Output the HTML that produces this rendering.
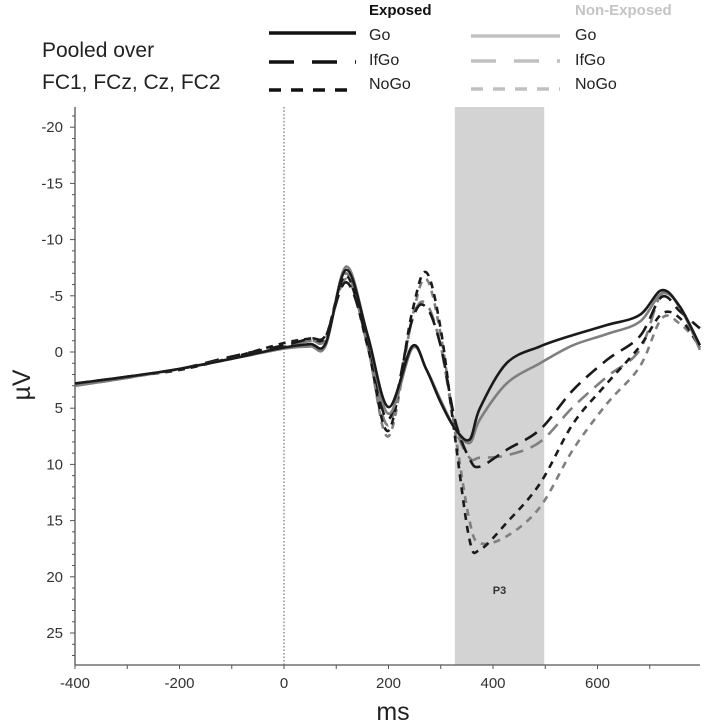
<!DOCTYPE html>
<html><head><meta charset="utf-8"><style>
html,body{margin:0;padding:0;background:#fff;}
svg{display:block;font-family:"Liberation Sans",sans-serif;}
</style></head><body>
<svg id="chart" width="709" height="728" viewBox="0 0 709 728">
<g>
  <text x="42" y="57" font-size="21" fill="#222">Pooled over</text>
  <text x="42" y="89" font-size="21" fill="#222">FC1, FCz, Cz, FC2</text>
  <text x="369" y="15" font-size="15" font-weight="bold" fill="#111">Exposed</text>
  <text x="575" y="15" font-size="15" font-weight="bold" fill="#c4c4c4">Non-Exposed</text>
  <line x1="269" y1="33" x2="356" y2="33" stroke="#111" stroke-width="3.5"/>
  <line x1="269" y1="62" x2="356" y2="62" stroke="#111" stroke-width="3.5" stroke-dasharray="25 18"/>
  <line x1="269" y1="90" x2="356" y2="90" stroke="#111" stroke-width="3.5" stroke-dasharray="12 10"/>
  <text x="369" y="40" font-size="16" fill="#222">Go</text>
  <text x="369" y="65" font-size="16" fill="#222">IfGo</text>
  <text x="369" y="89" font-size="16" fill="#222">NoGo</text>
  <line x1="471" y1="36" x2="560" y2="36" stroke="#c0c0c0" stroke-width="3.5"/>
  <line x1="471" y1="61" x2="560" y2="61" stroke="#c0c0c0" stroke-width="3.5" stroke-dasharray="25 18"/>
  <line x1="471" y1="89" x2="560" y2="89" stroke="#c0c0c0" stroke-width="3.5" stroke-dasharray="12 10"/>
  <text x="575" y="40" font-size="16" fill="#222">Go</text>
  <text x="575" y="65" font-size="16" fill="#222">IfGo</text>
  <text x="575" y="89" font-size="16" fill="#222">NoGo</text>
</g>
<g id="plot"></g>
</svg>
<script>
const times = [-400,-300,-200,-100,0,50,80,119,160,200,245,272,300,327,355,375,426,490,553,618,681,723,758,796];
const goExposed = [2.8,2.2,1.5,0.6,-0.4,-0.7,-0.8,-7.3,-1.5,4.9,-0.5,1.5,4.5,6.8,7.8,5.0,1.0,-0.5,-1.5,-2.4,-3.3,-5.5,-4.0,-0.6];
const goNonExposed = [3.0,2.3,1.5,0.6,-0.3,-0.5,-0.6,-7.6,-1.5,5.5,-0.3,1.5,4.3,6.8,8.1,6.0,2.8,1.0,-0.6,-1.6,-2.7,-5.2,-4.0,-0.2];
const ifgoExposed = [2.8,2.2,1.5,0.4,-0.6,-1.2,-1.5,-6.2,-1.0,6.0,-2.8,-4.0,-0.5,6.0,9.5,10.2,8.7,6.9,3.4,0.7,-1.4,-4.9,-3.6,-2.1];
const ifgoNonExposed = [3.0,2.3,1.5,0.5,-0.5,-1.0,-1.2,-6.5,-1.0,6.5,-2.8,-4.3,-0.5,6.5,9.4,9.4,9.2,8.0,4.9,2.2,-0.2,-5.2,-3.9,-0.3];
const nogoExposed = [2.9,2.2,1.6,0.5,-0.8,-1.2,-1.4,-6.8,-0.5,7.0,-3.5,-7.1,-2.0,7.5,16.7,17.6,15.2,11.7,6.4,2.8,-0.5,-3.4,-3.0,-0.4];
const nogoNonExposed = [3.0,2.3,1.5,0.6,-0.5,-1.0,-1.2,-7.0,-0.5,7.5,-3.0,-6.5,-1.5,7.0,15.0,17.0,16.4,13.8,8.7,4.6,1.3,-3.0,-2.5,-0.7];
const xTicks = [-400,-200,0,200,400,600];
const yTicks = [-20,-15,-10,-5,0,5,10,15,20,25];
const p3Window = [327,498];

const NS='http://www.w3.org/2000/svg';
const X0=75, X1=700, Y0=107, Y1=665;
const xs = t => 284 + 0.5225*t;
const ys = v => 352 + 11.24*v;
const plot = document.getElementById('plot');
function mk(tag, attrs, parent){
  const e=document.createElementNS(NS,tag);
  for(const k in attrs) e.setAttribute(k, attrs[k]);
  (parent||plot).appendChild(e); return e;
}
// P3 shading
const sh = mk('rect',{x:xs(p3Window[0]),y:Y0,width:xs(p3Window[1])-xs(p3Window[0]),height:Y1-Y0,fill:'#d3d3d3'});


const p3 = mk('text',{x:(xs(p3Window[0])+xs(p3Window[1]))/2,y:594,'font-size':11,'font-weight':'bold','text-anchor':'middle',fill:'#333'});
p3.textContent='P3';


// zero line
const zl = mk('line',{x1:xs(0),y1:Y0,x2:xs(0),y2:Y1,stroke:'#555','stroke-width':1,'stroke-dasharray':'1.5 2'});


// axes
const ya = mk('line',{x1:X0,y1:Y0,x2:X0,y2:Y1,stroke:'#555','stroke-width':1.3});


const xa = mk('line',{x1:X0,y1:Y1,x2:X1,y2:Y1,stroke:'#555','stroke-width':1.3});


for(let v=-21; v<=27; v++){
  const major = v%5===0;
  const tk = mk('line',{x1:X0-(major?5:3),y1:ys(v),x2:X0,y2:ys(v),stroke:'#555','stroke-width':1});
  
  
}
yTicks.forEach(v=>{
  const t = mk('text',{x:X0-12,y:ys(v)+5,'font-size':15,'text-anchor':'end',fill:'#333'});
  t.textContent=String(v);
  
  
});
for(let t=-400; t<=700; t+=100){
  const tk = mk('line',{x1:xs(t),y1:Y1,x2:xs(t),y2:Y1+4,stroke:'#555','stroke-width':1});
  
  
}
xTicks.forEach(v=>{
  const t = mk('text',{x:xs(v),y:688,'font-size':15,'text-anchor':'middle',fill:'#333'});
  t.textContent=String(v);
  
  
});
const xt = mk('text',{x:393,y:720,'font-size':25,'text-anchor':'middle',fill:'#222'});
xt.textContent='ms';


const yt = mk('text',{x:0,y:0,'font-size':25,'text-anchor':'middle',fill:'#222',transform:'translate(30,385) rotate(-90)'});
yt.textContent='µV';



function pathFor(vals){
  const p = times.map((t,i)=>[xs(t), ys(vals[i])]);
  let d='M'+p[0][0].toFixed(1)+','+p[0][1].toFixed(1);
  for(let i=0;i<p.length-1;i++){
    const a=p[Math.max(0,i-1)], b=p[i], c=p[i+1], e=p[Math.min(p.length-1,i+2)];
    const c1=[b[0]+(c[0]-a[0])/6, b[1]+(c[1]-a[1])/6];
    const c2=[c[0]-(e[0]-b[0])/6, c[1]-(e[1]-b[1])/6];
    d+=' C'+c1.map(n=>n.toFixed(1)).join(',')+' '+c2.map(n=>n.toFixed(1)).join(',')+' '+c.map(n=>n.toFixed(1)).join(',');
  }
  return d;
}
function series(vals, color, dash, name){
  const a={d:pathFor(vals),fill:'none',stroke:color,'stroke-width':2.6,'stroke-linejoin':'round'};
  if(dash) a['stroke-dasharray']=dash;
  const e = mk('path',a);
  
  
}
series(nogoNonExposed,'#7f7f7f','7 6','line-nogo-nonexposed');
series(ifgoNonExposed,'#7f7f7f','14 8','line-ifgo-nonexposed');
series(nogoExposed,'#1a1a1a','7 6','line-nogo-exposed');
series(ifgoExposed,'#1a1a1a','14 8','line-ifgo-exposed');
series(goNonExposed,'#7f7f7f',null,'line-go-nonexposed');
series(goExposed,'#1a1a1a',null,'line-go-exposed');
</script>
</body></html>
